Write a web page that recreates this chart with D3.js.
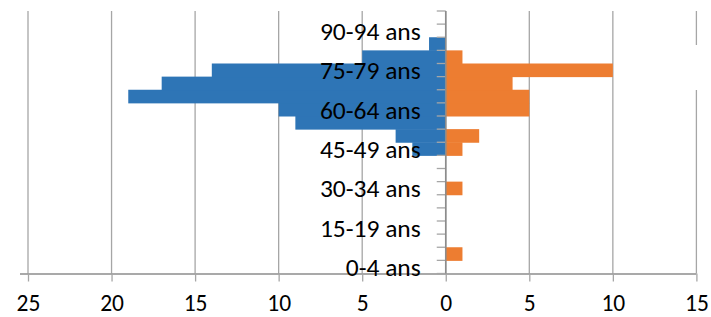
<!DOCTYPE html>
<html>
<head>
<meta charset="utf-8">
<script src="https://cdn.jsdelivr.net/npm/d3@7"></script>
<style>
  body { margin: 0; background: #fff; }
  svg { display: block; font-family: Carlito, Calibri, Lato, "Open Sans", sans-serif; }
</style>
</head>
<body>
<div id="chart"></div>
<script>
// age groups, bottom to top
const ages = ["0-4 ans", "5-9 ans", "10-14 ans", "15-19 ans", "20-24 ans", "25-29 ans",
  "30-34 ans", "35-39 ans", "40-44 ans", "45-49 ans", "50-54 ans", "55-59 ans",
  "60-64 ans", "65-69 ans", "70-74 ans", "75-79 ans", "80-84 ans", "85-89 ans",
  "90-94 ans", "95-99 ans"];
const hommes = [0, 0, 0, 0, 0, 0, 0, 0, 0, 2, 3, 9, 10, 19, 17, 14, 5, 1, 0, 0];
const femmes = [0, 1, 0, 0, 0, 0, 1, 0, 0, 1, 2, 0, 5, 5, 4, 10, 1, 0, 0, 0];
const shownLabels = ["0-4 ans", "15-19 ans", "30-34 ans", "45-49 ans", "60-64 ans", "75-79 ans", "90-94 ans"];
const xTicks = [-25, -20, -15, -10, -5, 0, 5, 10, 15];

let width = 711,
height = 317,
margin = ({ top: 11, right: 15, bottom: 43.5, left: 28 });

const svg = d3.select("#chart")
    .append("svg")
    .attr("width", width)
    .attr("height", height);

let x = d3.scaleLinear()
    .domain([-25, 15])
    .range([margin.left, 696.4]);

let y = d3.scaleBand()
    .domain(ages)
    .range([height - margin.bottom, margin.top])
    .padding(0);

// vertical gridlines
svg.append("g")
  .selectAll("line")
  .data(xTicks)
  .join("line")
    .attr("x1", d => x(d))
    .attr("x2", d => x(d))
    .attr("y1", margin.top)
    .attr("y2", height - margin.bottom)
    .attr("stroke", "#a6a6a6")
    .attr("stroke-width", 1.3);

// bars
svg.append("g")
  .selectAll("rect")
  .data(ages.map((a, i) => ({ age: a, v: hommes[i] })).filter(d => d.v > 0))
  .join("rect")
    .attr("x", d => x(-d.v))
    .attr("width", d => x(0) - x(-d.v))
    .attr("y", d => y(d.age))
    .attr("height", y.bandwidth() + 0.5)
    .attr("fill", "#2e75b6");

svg.append("g")
  .selectAll("rect")
  .data(ages.map((a, i) => ({ age: a, v: femmes[i] })).filter(d => d.v > 0))
  .join("rect")
    .attr("x", x(0))
    .attr("width", d => x(d.v) - x(0))
    .attr("y", d => y(d.age))
    .attr("height", y.bandwidth() + 0.5)
    .attr("fill", "#ed7d31");

// x axis
const xAxis = svg.append("g")
  .attr("transform", `translate(0,${height - margin.bottom})`)
  .call(d3.axisBottom(x)
    .tickValues(xTicks)
    .tickFormat(d => Math.abs(d))
    .tickSize(8)
    .tickSizeOuter(0));
xAxis.select(".domain").attr("stroke", "#8c8c8c").attr("stroke-width", 1.6)
  .attr("d", `M${x(-25) - 8},0.5H${x(15)}`);
xAxis.selectAll(".tick line").attr("stroke", "#a6a6a6").attr("stroke-width", 1.3);
xAxis.selectAll(".tick text")
  .attr("y", 21)
  .attr("fill", "#000")
  .style("font-size", "23.5px")
  .style("font-family", "Carlito, Calibri, Lato, 'Open Sans', sans-serif");

// y axis (at zero), ticks on category boundaries
const boundaries = ages.map(a => y(a)).concat([y(ages[0]) + y.bandwidth()]);
svg.append("g")
  .selectAll("line")
  .data(boundaries)
  .join("line")
    .attr("x1", x(0) - 9)
    .attr("x2", x(0))
    .attr("y1", d => d)
    .attr("y2", d => d)
    .attr("stroke", "#a6a6a6")
    .attr("stroke-width", 1.3);

svg.append("line")
  .attr("x1", x(0))
  .attr("x2", x(0))
  .attr("y1", margin.top)
  .attr("y2", height - margin.bottom)
  .attr("stroke", "#8c8c8c")
  .attr("stroke-width", 1.6);

// category labels
svg.append("g")
  .selectAll("text")
  .data(shownLabels)
  .join("text")
    .attr("x", x(0) - 25)
    .attr("y", d => y(d) + y.bandwidth() / 2)
    .attr("dy", "0.36em")
    .attr("text-anchor", "end")
    .attr("fill", "#000")
    .style("font-size", "25.5px")
    .text(d => d);

// legend area (empty, hides part of the last gridline)
svg.append("rect")
  .attr("x", x(15) - 4)
  .attr("y", 45)
  .attr("width", 14)
  .attr("height", 45)
  .attr("fill", "#fff");
</script>
</body>
</html>
